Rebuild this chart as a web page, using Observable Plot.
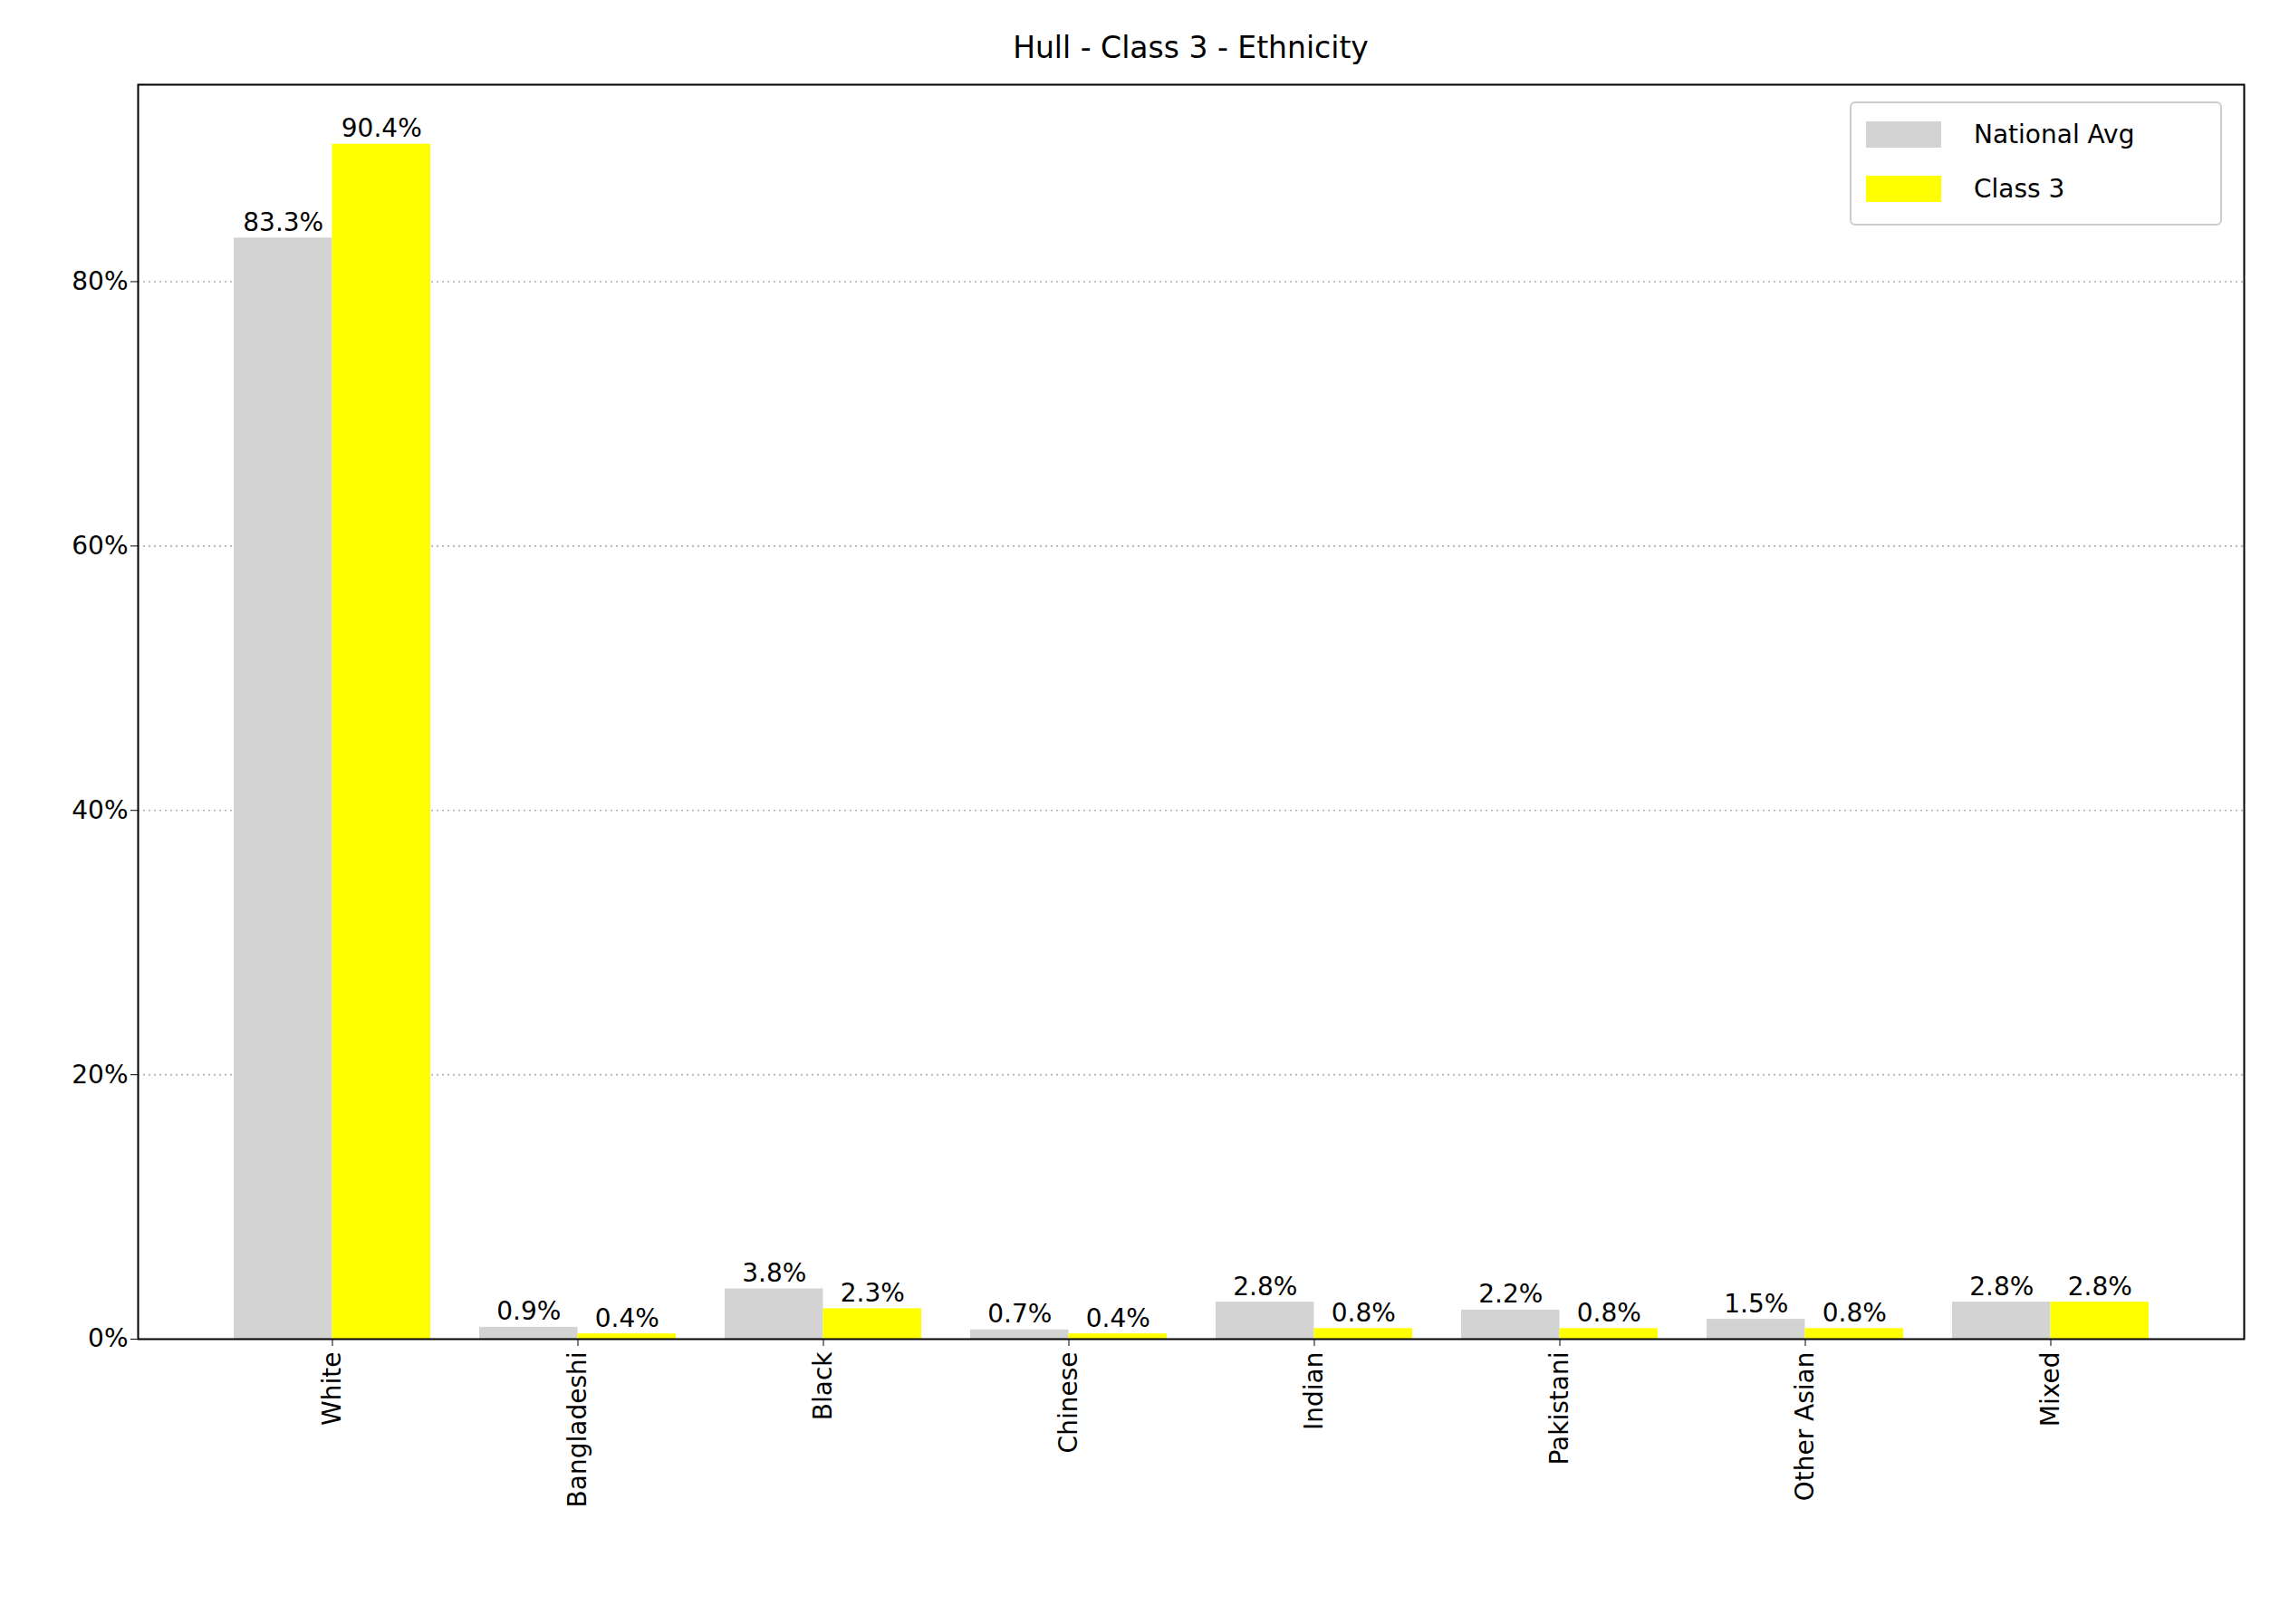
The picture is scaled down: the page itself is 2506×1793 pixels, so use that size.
<!DOCTYPE html>
<html><head><meta charset="utf-8">
<script src="https://cdn.jsdelivr.net/npm/d3@7"></script>
<script src="https://cdn.jsdelivr.net/npm/@observablehq/plot@0.6"></script>
<style>
body{margin:0;background:#fff;font-family:"DejaVu Sans",sans-serif;}
#wrap{position:relative;width:2506px;height:1793px;}
#title{height:80px;line-height:106px;text-align:center;font-size:33px;padding-left:152px;padding-right:29px;box-sizing:border-box;}
#legend{position:absolute;left:2042px;top:112px;width:411px;height:137px;border:2px solid #ccc;border-radius:6px;background:rgba(255,255,255,0.8);font-size:28px;box-sizing:border-box;}
.row{position:absolute;left:16px;display:flex;align-items:center;}
.sw{width:83px;height:29px;margin-right:36px;}
</style></head>
<body><div id="wrap"><div id="title">Hull - Class 3 - Ethnicity</div><div id="chart"></div>
<div id="legend">
<div class="row" style="top:18px"><div class="sw" style="background:#d3d3d3"></div>National Avg</div>
<div class="row" style="top:78px"><div class="sw" style="background:#ffff00"></div>Class 3</div>
</div></div>
<script>
const categories = ["White","Bangladeshi","Black","Chinese","Indian","Pakistani","Other Asian","Mixed"];
const nationalAvg = [83.3,0.9,3.8,0.7,2.8,2.2,1.5,2.8];
const class3 = [90.4,0.4,2.3,0.4,0.8,0.8,0.8,2.8];

const nat = categories.map((c,i)=>({cat:c, v:nationalAvg[i]}));
const cls = categories.map((c,i)=>({cat:c, v:class3[i]}));

const W = 2506, mL = 152, mR = 29;
const step = (W - mL - mR) / (8 - 0.2 + 2*0.385);
const half = step * 0.4;

const chart = Plot.plot({
  width:W, height:1713,
  marginLeft:mL, marginRight:mR, marginTop:13, marginBottom:315,
  style:{fontSize:"28px", fontFamily:"DejaVu Sans, sans-serif", color:"#000"},
  x:{domain:categories, paddingInner:0.2, paddingOuter:0.385, label:null, tickRotate:-90, tickSize:8, tickPadding:6},
  y:{domain:[0,94.9], ticks:[0,20,40,60,80], tickFormat:d=>d+"%", label:null, tickSize:8},
  marks:[
    Plot.gridY([20,40,60,80],{stroke:"#b0b0b0", strokeOpacity:1, strokeDasharray:"2,4", strokeWidth:1.6}),
    Plot.barY(nat,{x:"cat", y:"v", fill:"#d3d3d3", insetRight:half}),
    Plot.barY(cls,{x:"cat", y:"v", fill:"#ffff00", insetLeft:half}),
    Plot.text(nat,{x:"cat", y:"v", text:d=>d.v.toFixed(1)+"%", dx:-half/2, dy:-17, fontSize:28}),
    Plot.text(cls,{x:"cat", y:"v", text:d=>d.v.toFixed(1)+"%", dx:half/2, dy:-17, fontSize:28}),
    Plot.frame({stroke:"#000", strokeWidth:2})
  ]
});
document.getElementById("chart").append(chart);
</script></body></html>
